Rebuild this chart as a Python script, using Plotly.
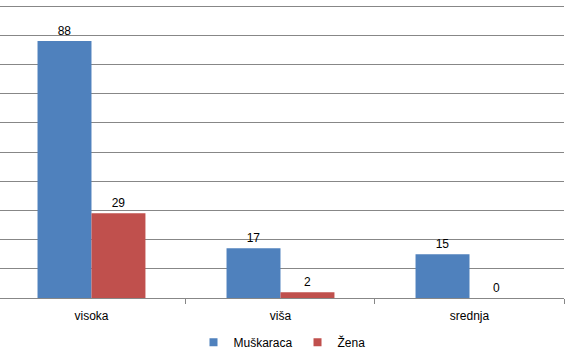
import plotly.graph_objects as go

categories = ["visoka", "viša", "srednja"]
muskaraca = [88, 17, 15]
zena = [29, 2, 0]
series_names = ["Muškaraca", "Žena"]
series_colors = ["#4F81BD", "#C0504D"]
y_ticks = [0, 10, 20, 30, 40, 50, 60, 70, 80, 90, 100]
boundaries = [0.5, 1.5, 2.5]

font = dict(family="Liberation Sans, Arial, sans-serif", size=12, color="#000000")

fig = go.Figure()
for vals, name, col in zip([muskaraca, zena], series_names, series_colors):
    fig.add_trace(go.Bar(x=categories, y=vals, name=name, showlegend=False,
                         marker=dict(color=col, line=dict(width=0)),
                         text=vals, textposition="outside", cliponaxis=False,
                         textfont=font))
for name, col in zip(series_names, series_colors):
    fig.add_trace(go.Scatter(x=[None], y=[None], mode="markers", name=name,
                             xaxis="x2",
                             marker=dict(symbol="square", size=8, color=col),
                             showlegend=True))

xr = [-0.484, 2.5]
fig.update_layout(
    width=567, height=361,
    margin=dict(l=0, r=3, t=5, b=63, autoexpand=False),
    paper_bgcolor="white", plot_bgcolor="white",
    barmode="group", bargap=0.429, bargroupgap=0,
    font=font,
    showlegend=True,
    legend=dict(orientation="h", x=0.5, xanchor="center", y=-0.151, yanchor="middle",
                font=font, itemwidth=30, traceorder="normal"),
    xaxis=dict(type="category", range=xr, showgrid=False,
               showline=True, linecolor="#878787", linewidth=1,
               ticks="", tickfont=font, ticklabelstandoff=7, fixedrange=True),
    xaxis2=dict(overlaying="x", anchor="y", type="linear", range=xr,
                showgrid=False, showline=False, zeroline=False, tickvals=boundaries,
                showticklabels=False, ticks="outside", ticklen=5,
                tickcolor="#878787", side="bottom", fixedrange=True),
    yaxis=dict(range=[0, 100.35], tickvals=y_ticks, showticklabels=False,
               showgrid=True, gridcolor="#878787", gridwidth=1,
               zeroline=False, showline=False, fixedrange=True),
)

fig.write_html("out.html", config={"displayModeBar": False},
               post_script="document.body.style.margin='0';")
